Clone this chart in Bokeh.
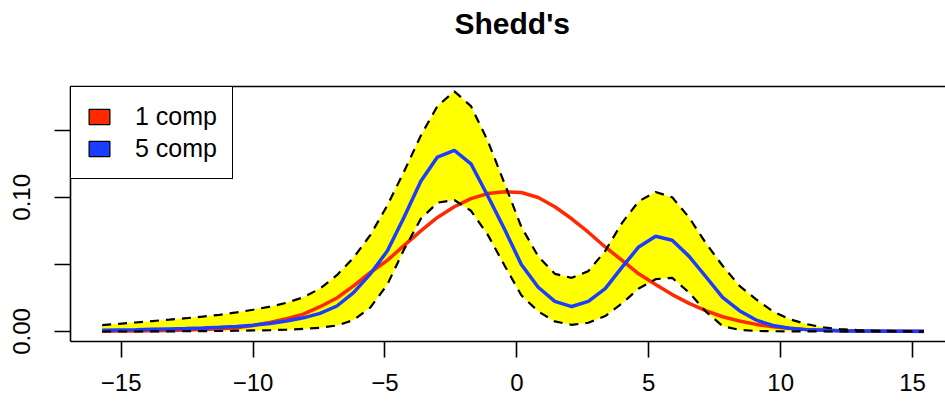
from bokeh.plotting import figure
from bokeh.models import Range1d, FixedTicker, LinearAxis, Legend, LegendItem
from bokeh.embed import file_html
from bokeh.resources import INLINE

# ---- data ----
x = [-15.72, -15.08, -14.45, -13.81, -13.18, -12.54, -11.91, -11.27, -10.63, -10.00,
     -9.36, -8.73, -8.09, -7.46, -6.82, -6.19, -5.55, -4.91, -4.28, -3.64,
     -3.01, -2.37, -1.74, -1.10, -0.46, 0.17, 0.81, 1.44, 2.08, 2.71,
     3.35, 3.99, 4.62, 5.26, 5.89, 6.53, 7.16, 7.80, 8.44, 9.07,
     9.71, 10.34, 10.98, 11.61, 12.25, 12.89, 13.52, 14.16, 14.79, 15.43]

upper = [0.0048, 0.0057, 0.0067, 0.0078, 0.0088, 0.0099, 0.0111, 0.0124, 0.0142, 0.0162,
         0.0185, 0.0214, 0.0255, 0.032, 0.042, 0.055, 0.072, 0.094, 0.119, 0.146,
         0.168, 0.179, 0.168, 0.142, 0.110, 0.078, 0.056, 0.043, 0.040, 0.045,
         0.060, 0.081, 0.097, 0.104, 0.100, 0.085, 0.066, 0.049, 0.034, 0.024,
         0.015, 0.0092, 0.0055, 0.0031, 0.0018, 0.0011, 0.0006, 0.0004, 0.0002, 0.0001]

lower = [0.0, 0.0, 0.0, 0.0001, 0.0001, 0.0002, 0.0003, 0.0004, 0.0006, 0.0008,
         0.0010, 0.0014, 0.0019, 0.0028, 0.0045, 0.0085, 0.018, 0.035, 0.061, 0.084,
         0.096, 0.098, 0.090, 0.072, 0.049, 0.027, 0.015, 0.0075, 0.005, 0.0065,
         0.0115, 0.021, 0.032, 0.039, 0.040, 0.029, 0.015, 0.004, 0.0012, 0.0004,
         0.0002, 0.0001, 0.0001, 0.0, 0.0, 0.0, 0.0, 0.0, 0.0, 0.0]

comp5 = [0.0009, 0.0011, 0.0013, 0.0016, 0.0019, 0.0022, 0.0026, 0.0031, 0.0037, 0.0047,
         0.0060, 0.0078, 0.0102, 0.0135, 0.019, 0.029, 0.043, 0.060, 0.085, 0.112,
         0.130, 0.135, 0.125, 0.101, 0.076, 0.050, 0.033, 0.0225, 0.0186, 0.0224,
         0.032, 0.048, 0.063, 0.071, 0.068, 0.056, 0.041, 0.0255, 0.0155, 0.0085,
         0.0045, 0.0024, 0.0014, 0.0009, 0.0006, 0.0004, 0.0003, 0.0002, 0.0001, 0.0001]

comp1 = [0.0002, 0.0003, 0.0004, 0.0006, 0.0008, 0.0011, 0.0015, 0.0021, 0.0028, 0.0045,
         0.0067, 0.0095, 0.013, 0.0185, 0.025, 0.034, 0.044, 0.053, 0.064, 0.075,
         0.085, 0.093, 0.099, 0.1028, 0.1041, 0.1036, 0.0999, 0.093, 0.084, 0.074,
         0.063, 0.053, 0.043, 0.035, 0.0275, 0.021, 0.0155, 0.011, 0.0078, 0.0053,
         0.0036, 0.0024, 0.0014, 0.0009, 0.0005, 0.0003, 0.0002, 0.0001, 0.0001, 0.0]

x_ticks = [-15, -10, -5, 0, 5, 10, 15]
x_tick_labels = ["\u221215", "\u221210", "\u22125", "0", "5", "10", "15"]
y_ticks = [0.0, 0.05, 0.10, 0.15]
y_tick_labels = ["0.00", "", "0.10", ""]

title_text = "Shedd's"
legend_labels = ["1 comp", "5 comp"]

RED = "#FF2A00"
BLUE = "#1A3DFF"
YELLOW = "#FFFF00"
FONT = "Liberation Sans"
NAN = float("nan")

p = figure(width=945, height=406, output_backend="svg", toolbar_location=None,
           x_range=Range1d(-16.92, 16.25), y_range=Range1d(-0.00745, 0.1826),
           min_border_left=70, min_border_right=0, min_border_top=86, min_border_bottom=65,
           title=title_text)
p.outline_line_color = None
p.xgrid.visible = False
p.ygrid.visible = False
p.background_fill_color = "white"
p.border_fill_color = "white"

p.title.align = "left"
p.title.offset = 384
p.title.text_font = FONT
p.title.text_font_size = "30px"
p.title.text_font_style = "bold"
p.title.text_color = "black"
p.title.standoff = 2

xa = p.xaxis[0]
xa.ticker = FixedTicker(ticks=x_ticks)
xa.major_label_overrides = dict(zip(x_ticks, x_tick_labels))
ya = p.yaxis[0]
ya.ticker = FixedTicker(ticks=y_ticks)
ya.major_label_overrides = dict(zip(y_ticks, y_tick_labels))
ya.major_label_orientation = "vertical"
for ax in (xa, ya):
    ax.major_tick_out = 16
    ax.major_tick_in = 0
    ax.minor_tick_out = 0
    ax.minor_tick_in = 0
    ax.axis_line_width = 1.6
    ax.axis_line_color = "black"
    ax.major_tick_line_width = 1.6
    ax.major_tick_line_color = "black"
    ax.major_label_text_font = FONT
    ax.major_label_text_font_size = "24px"
    ax.major_label_text_color = "black"
xa.major_label_standoff = 16
ya.major_label_standoff = 24

# top border of the box; a blank axis label keeps the title up high
top = LinearAxis(ticker=FixedTicker(ticks=[]), major_tick_out=0, major_tick_in=0,
                 minor_tick_out=0, minor_tick_in=0, major_label_text_font_size="0px",
                 axis_line_width=1.6, axis_line_color="black", major_label_standoff=0,
                 axis_label=" ", axis_label_standoff=16,
                 axis_label_text_font=FONT, axis_label_text_font_size="24px")
p.add_layout(top, "above")

p.varea(x=x, y1=lower, y2=upper, fill_color=YELLOW)
p.line(x, comp1, line_color=RED, line_width=3.5)
p.line(x, comp5, line_color=BLUE, line_width=3.5)
p.line(x, upper, line_color="black", line_width=2.2, line_dash="9 7")
p.line(x, lower, line_color="black", line_width=2.2, line_dash="9 7")

r1 = p.rect(x=[NAN], y=[NAN], width=1, height=1, fill_color=RED, line_color="black", line_width=1.2)
r2 = p.rect(x=[NAN], y=[NAN], width=1, height=1, fill_color=BLUE, line_color="black", line_width=1.2)

legend = Legend(items=[LegendItem(label=legend_labels[0], renderers=[r1]),
                       LegendItem(label=legend_labels[1], renderers=[r2])],
                location="top_left", margin=0, padding=15, spacing=3,
                glyph_width=26, glyph_height=19, label_standoff=23,
                label_text_font=FONT, label_text_font_size="25px", label_text_color="black",
                border_line_color="black", border_line_width=1.6, border_line_alpha=1,
                background_fill_color="white", background_fill_alpha=1)
p.add_layout(legend)

open("out.html", "w").write(file_html(p, INLINE))
